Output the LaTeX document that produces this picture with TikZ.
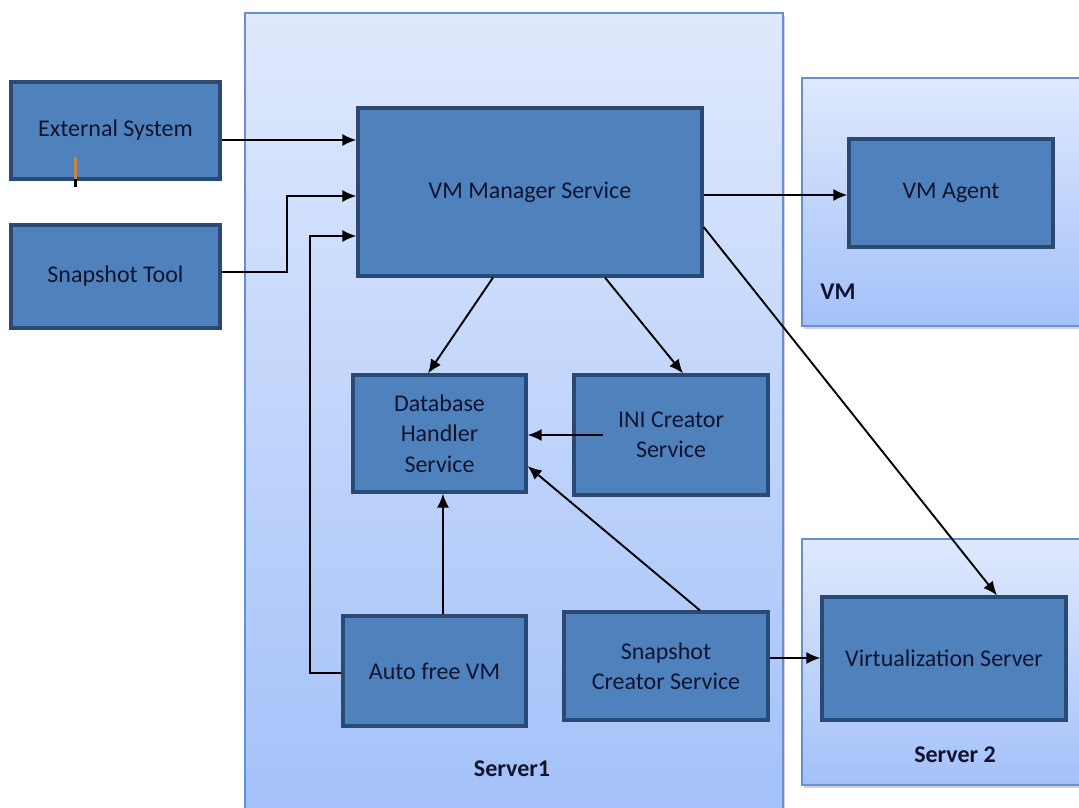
\documentclass[tikz,border=0pt]{standalone}
\usepackage{fontspec}
\setmainfont{Carlito}
\usetikzlibrary{arrows.meta,shadows}
\definecolor{boxfill}{HTML}{4F81BD}
\definecolor{boxline}{HTML}{2B4A73}
\definecolor{contline}{HTML}{6591D3}
\definecolor{conttop}{HTML}{DFE9FD}
\definecolor{contbot}{HTML}{A3C1F9}
\definecolor{txt}{HTML}{11142E}
\definecolor{cursor}{HTML}{C8843A}
\tikzset{
  container/.style={draw=contline, line width=1.2pt, top color=conttop, bottom color=contbot,
    drop shadow={shadow xshift=1.5pt, shadow yshift=-2.5pt, opacity=0.35}},
  blockbox/.style={draw=boxline, fill=boxfill, line width=3.2pt, inner sep=0pt,
    text=txt, align=center, font=\fontsize{24}{30.5}\selectfont},
  lbl/.style={text=txt, font=\fontsize{24}{28}\selectfont\bfseries, inner sep=0pt},
  arr/.style={draw=black, line width=1.9pt, -{Latex[length=14pt,width=12pt]}},
}
\begin{document}
\begin{tikzpicture}[x=1pt,y=-1pt]
\useasboundingbox (0,0) rectangle (1079,807);
\fill[white] (0,0) rectangle (1079,807);
% containers
\draw[container] (245,13) rectangle (783,815);
\draw[container] (802,78) rectangle (1090,326);
\draw[container] (802,539) rectangle (1090,785);
% labels
\node[lbl] (lvm) at (838,292) {VM};
\node[lbl] (ls1) at (512,769) {Server1};
\node[lbl] (ls2) at (955,755) {Server 2};
% boxes
\node[blockbox, minimum width=209pt, minimum height=97pt] (ext) at (115.5,130.5) {External System};
\node[blockbox, minimum width=209pt, minimum height=103pt] (snap) at (115.5,276.5) {Snapshot Tool};
\node[blockbox, minimum width=344pt, minimum height=168pt] (vmm) at (530,192) {VM Manager Service};
\node[blockbox, minimum width=173pt, minimum height=117pt] (db) at (439.5,433.5) {Database\\Handler\\Service};
\node[blockbox, minimum width=194pt, minimum height=120pt] (ini) at (671,435) {INI Creator\\Service};
\node[blockbox, minimum width=183pt, minimum height=110pt] (auto) at (434.5,671) {Auto free VM};
\node[blockbox, minimum width=204pt, minimum height=108pt] (sc) at (666,666) {Snapshot\\Creator Service};
\node[blockbox, minimum width=204pt, minimum height=108pt] (agent) at (951,193) {VM Agent};
\node[blockbox, minimum width=244pt, minimum height=123pt] (virt) at (944,658.5) {Virtualization Server};
% cursor mark
\draw[cursor, line width=3pt] (75,157) -- (75,179);
\draw[black, line width=3pt] (75,179) -- (75,187);
% connectors
\draw[arr] ([yshift=-9.5pt]ext.east) -- ([yshift=52pt]vmm.west);
\draw[arr] ([yshift=4.5pt]snap.east) -- ++(65,0) |- ([yshift=-4pt]vmm.west);
\draw[arr] ([yshift=-2pt]auto.west) -- ++(-31,0) |- ([yshift=-44pt]vmm.west);
\draw[arr] ([xshift=-37pt]vmm.south) -- ([xshift=-11.5pt]db.north);
\draw[arr] ([xshift=75pt]vmm.south) -- ([xshift=12pt]ini.north);
\draw[arr] ([yshift=-3pt]vmm.east) -- ([yshift=-2pt]agent.west);
\draw[arr] ([yshift=-35pt]vmm.east) -- ([xshift=53pt]virt.north);
\coordinate (i1) at ([xshift=31pt]ini.west);
\draw[arr] (i1) -- (i1 -| db.east);
\draw[arr] ([xshift=34pt]sc.north) -- ([yshift=-32.5pt]db.east);
\coordinate (a1) at ([xshift=8.5pt]auto.north);
\draw[arr] (a1) -- (a1 |- db.south);
\coordinate (s1) at ([yshift=8pt]sc.east);
\draw[arr] (s1) -- (s1 -| virt.west);
\end{tikzpicture}
\end{document}
